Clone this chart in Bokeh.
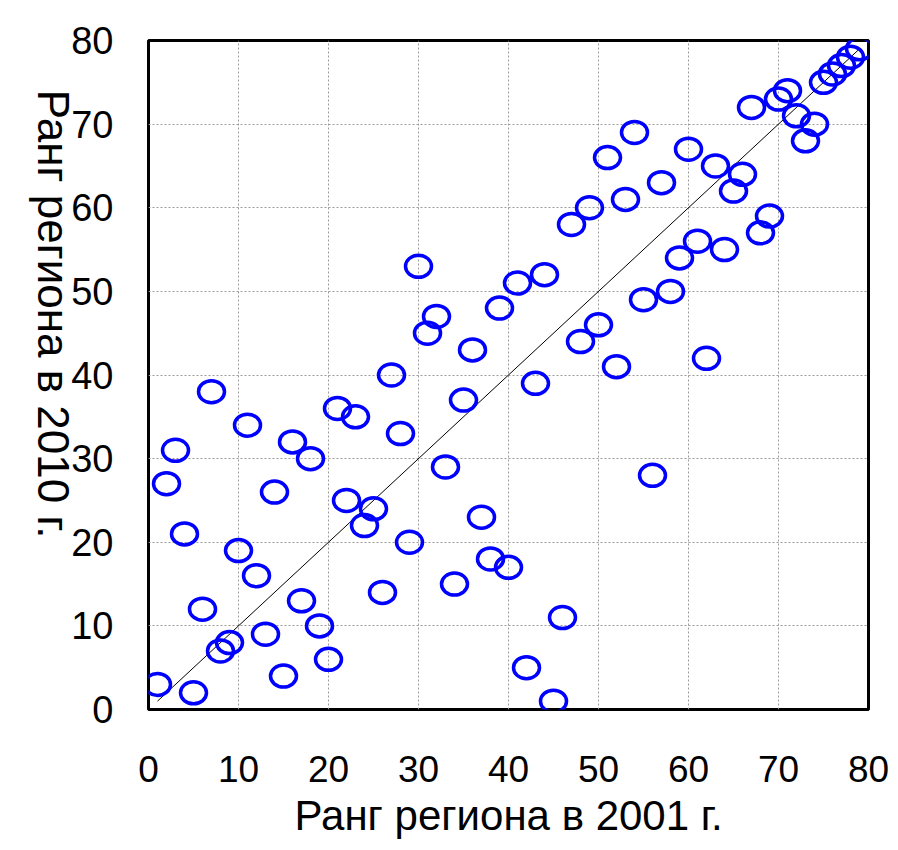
import math
from bokeh.plotting import figure
from bokeh.models import FixedTicker, Range1d
from bokeh.embed import file_html
from bokeh.resources import INLINE

# Rank of each region in 2001 (x) and in 2010 (y)
rank_2001 = [1, 2, 3, 4, 5, 6, 7, 8, 9, 10, 11, 12, 13, 14, 15, 16, 17, 18, 19, 20,
             21, 22, 23, 24, 25, 26, 27, 28, 29, 30, 31, 32, 33, 34, 35, 36, 37, 38, 39, 40,
             41, 42, 43, 44, 45, 46, 47, 48, 49, 50, 51, 52, 53, 54, 55, 56, 57, 58, 59, 60,
             61, 62, 63, 64, 65, 66, 67, 68, 69, 70, 71, 72, 73, 74, 75, 76, 77, 78, 79]
rank_2010 = [3, 27, 31, 21, 2, 12, 38, 7, 8, 19, 34, 16, 9, 26, 4, 32, 13, 30, 10, 6,
             36, 25, 35, 22, 24, 14, 40, 33, 20, 53, 45, 47, 29, 15, 37, 43, 23, 18, 48, 17,
             51, 5, 39, 52, 1, 11, 58, 44, 60, 46, 66, 41, 61, 69, 49, 28, 63, 50, 54, 67,
             56, 42, 65, 55, 62, 64, 72, 57, 59, 73, 74, 71, 68, 70, 75, 76, 77, 78, 79]
diag = [1, 79]
ticks = [0, 10, 20, 30, 40, 50, 60, 70, 80]
x_title = "Ранг региона в 2001 г."
y_title = "Ранг региона в 2010 г."

FONT = "Liberation Sans"

p = figure(width=898, height=850, output_backend="svg", toolbar_location=None,
           x_range=Range1d(0, 80), y_range=Range1d(0, 80),
           min_border_left=148, min_border_right=30, min_border_top=40, min_border_bottom=141)
p.background_fill_color = "white"
p.border_fill_color = "white"
p.outline_line_color = "black"
p.outline_line_width = 3

for ax in (p.xaxis[0], p.yaxis[0]):
    ax.ticker = FixedTicker(ticks=ticks)
    ax.axis_line_color = None
    ax.major_tick_line_color = None
    ax.minor_tick_line_color = None
    ax.major_tick_out = 0
    ax.major_tick_in = 0
    ax.major_label_text_font = FONT
    ax.major_label_text_color = "black"
    ax.axis_label_text_font = FONT
    ax.axis_label_text_font_style = "normal"
    ax.axis_label_text_color = "black"

p.xaxis.major_label_text_font_size = "37px"
p.xaxis.major_label_standoff = 46
p.yaxis.major_label_text_font_size = "38px"
p.yaxis.major_label_standoff = 35

p.xaxis.axis_label = x_title
p.xaxis.axis_label_text_font_size = "42px"
p.xaxis.axis_label_standoff = 7

yax = p.yaxis[0]
yax.axis_label = y_title + "\u00a0" * 14
yax.axis_label_text_font_size = "44px"
yax.axis_label_standoff = 15
try:
    yax.axis_label_orientation = -math.pi / 2
except Exception:
    pass
try:
    yax.axis_label_align = "start"
except Exception:
    pass

for g in (p.xgrid[0], p.ygrid[0]):
    g.ticker = FixedTicker(ticks=ticks)
    g.grid_line_color = "#9a9a9a"
    g.grid_line_dash = "2 2"
    g.grid_line_width = 1

p.line(diag, diag, line_color="black", line_width=1)

p.ellipse(x=rank_2001, y=rank_2010, width=26, height=22,
          width_units="screen", height_units="screen",
          fill_color=None, line_color="#0000ff", line_width=3.5)

open("out.html", "w").write(file_html(p, INLINE))
